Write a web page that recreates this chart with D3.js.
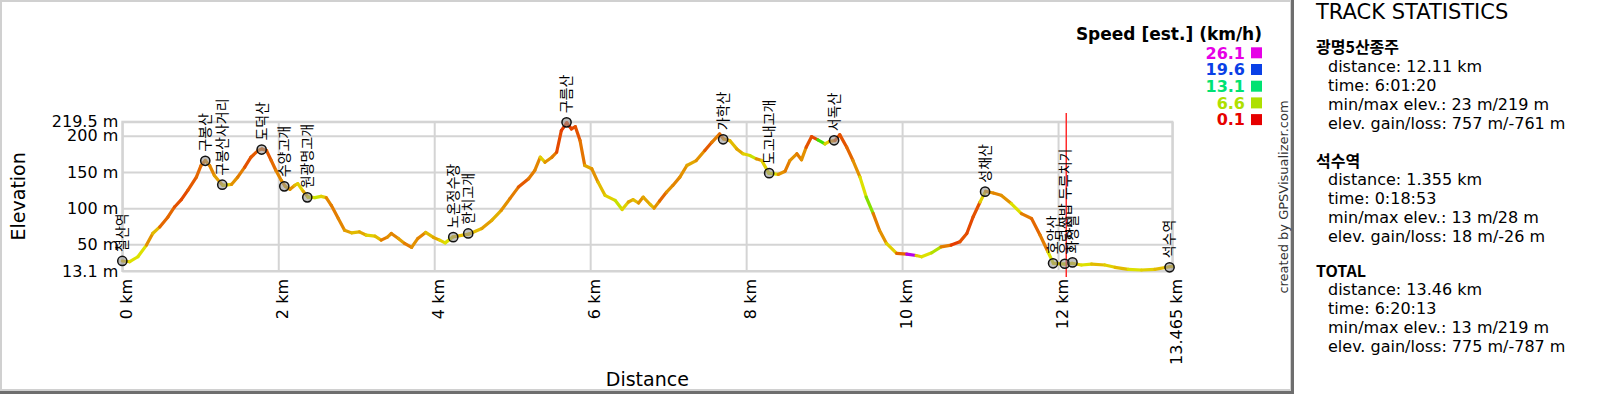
<!DOCTYPE html>
<html>
<head>
<meta charset="utf-8">
<title>광명5산종주 - elevation profile</title>
<script src="https://cdn.jsdelivr.net/npm/d3@7"></script>
<style>
  html, body { margin: 0; padding: 0; background: #fff; }
  svg { display: block; font-family: "DejaVu Sans", Verdana, sans-serif; }
</style>
</head>
<body>
<svg id="chart" width="1600" height="394"></svg>
<script>
// track profile: distance (km), elevation (m), speed (km/h)
var distKm = [
  0, 0.095, 0.2, 0.31, 0.39, 0.48, 0.586, 0.67, 0.757, 0.84,
  0.95, 1.01, 1.064, 1.12, 1.18, 1.25, 1.29, 1.40, 1.48, 1.57,
  1.65, 1.74, 1.79, 1.85, 1.91, 1.97, 2.04, 2.09, 2.15, 2.21,
  2.25, 2.32, 2.38, 2.47, 2.55, 2.615, 2.68, 2.77, 2.85, 2.94,
  3.04, 3.13, 3.24, 3.32, 3.40, 3.45, 3.54, 3.62, 3.71, 3.79,
  3.89, 3.99, 4.07, 4.14, 4.24, 4.44, 4.61, 4.74, 4.86, 4.97,
  5.08, 5.21, 5.29, 5.36, 5.42, 5.51, 5.57, 5.63, 5.70, 5.76,
  5.81, 5.87, 5.93, 6.02, 6.10, 6.19, 6.32, 6.41, 6.49, 6.55,
  6.62, 6.68, 6.77, 6.82, 6.89, 6.98, 7.06, 7.15, 7.24, 7.36,
  7.47, 7.56, 7.66, 7.71, 7.79, 7.88, 7.96, 8.05, 8.13, 8.20,
  8.29, 8.41, 8.50, 8.56, 8.65, 8.71, 8.77, 8.84, 8.92, 9.01,
  9.07, 9.14, 9.20, 9.29, 9.37, 9.46, 9.54, 9.63, 9.71, 9.80,
  9.93, 10.06, 10.18, 10.25, 10.38, 10.50, 10.63, 10.74, 10.83, 10.91,
  11.0, 11.07, 11.17, 11.27, 11.40, 11.53, 11.66, 11.77, 11.87, 11.94,
  12.09, 12.18, 12.30, 12.43, 12.60, 12.73, 12.90, 13.07, 13.24, 13.43,
  13.465
];
var elevM = [
  26.9, 25.9, 32.8, 48.9, 65, 74, 87.8, 101.6, 111.8, 124.6,
  142.9, 159, 165.8, 159, 145.2, 136, 131.4, 132.8, 142.9, 156.6,
  170.4, 179.6, 181.9, 179.6, 165.8, 152.1, 138.3, 130, 126, 131.4,
  133.8, 123.2, 115.3, 114.5, 116.3, 114.5, 103.9, 85.6, 69.5, 65.8,
  67.2, 62.6, 61.3, 55.8, 60, 65, 58.1, 51.2, 45.7, 58.1,
  66.4, 59.5, 55.8, 52, 60.3, 64, 71.8, 83.3, 97, 113.1,
  129.1, 140.7, 152.1, 170.4, 163.5, 170.4, 177.3, 207.1, 218, 209.5,
  212.6, 193.4, 159, 154.4, 136, 117.7, 110.8, 98, 108.5, 111.8,
  107.1, 115.3, 105, 100, 109.8, 122.2, 131.4, 142.9, 159, 165.8,
  179.6, 191, 202.6, 195.7, 193.4, 181.9, 175.1, 172.7, 168.2, 165.8,
  148.4, 146.6, 151.1, 165.8, 175.1, 166.8, 184.2, 198.9, 194.3, 188.8,
  192.4, 193.4, 201.6, 184.2, 165.8, 142.9, 115.3, 92.5, 69.5, 51.2,
  37.5, 36.5, 34.5, 32.8, 38.3, 46.5, 48.9, 53.4, 65, 87.8,
  108.5, 123.2, 120.9, 117.7, 106.3, 92.5, 85.6, 62.6, 39.7, 23.7,
  22.7, 23.7, 21.4, 22.7, 21.4, 18.2, 15.4, 14.5, 15.4, 19,
  19.5
];
var speedKmh = [
  4.5, 5.5, 5.5, 3.5, 4.5, 2.5, 2.5, 2, 1.8, 2.2,
  2.5, 2.8, 3.5, 3.2, 3.8, 4.2, 5, 3.5, 3, 2,
  2.2, 2.5, 2.3, 2.2, 2.6, 3.2, 3.5, 4, 3.5, 4.5,
  5, 4, 5.5, 6, 5, 3.2, 3, 3.2, 3.8, 4.5,
  4, 5, 4.5, 3, 3.5, 3.2, 3.8, 3, 3.5, 3.2,
  4.5, 4, 5, 5.5, 4.5, 4.5, 3.8, 4.2, 3.5, 3,
  2.2, 3, 3.2, 5, 3.5, 3, 1.8, 1.5, 1.5, 1.8,
  2, 2.8, 4, 3.5, 4.5, 5, 6, 5, 4, 4.5,
  3.5, 4, 4.5, 3.5, 2.5, 3.5, 3.2, 3.5, 4, 3.5,
  2.2, 3, 2.5, 3.5, 4.5, 4, 5, 6, 3.5, 5,
  5.5, 3.5, 3, 3.5, 3, 3.5, 2, 1.8, 9, 5,
  3.5, 2, 2, 2.5, 3.5, 5.5, 7.5, 3, 3.5, 5,
  2.5, 25, 5, 5.5, 6.5, 3, 1.5, 2, 1.8, 2,
  5, 3.5, 3.2, 3.5, 5.5, 3, 2.5, 3, 5.5, 5,
  5.5, 5, 5.5, 4.5, 5, 4.5, 5.5, 5, 4.5, 4.5,
  4.5
];

// waypoints
var wptNames = ["철산역", "구봉산", "구봉산사거리", "도덕산", "수양고개", "원광명고개",
  "노온정수장", "한치고개", "구름산", "가학산", "도고내고개", "서독산", "성채산",
  "호암산", "우렁쌈밥 두루치기", "화장실", "석수역"];
var wptDist = [0, 1.064, 1.282, 1.787, 2.077, 2.372, 4.244, 4.436, 5.697, 7.705,
  8.295, 9.128, 11.064, 11.936, 12.086, 12.185, 13.43];
var wptElev = [27, 165.4, 132.4, 181, 130.1, 114.9, 59.9, 65, 218.6, 195.2,
  148.4, 193.8, 122.8, 23.7, 23.1, 25, 18.2];
var markedWpt = 14;

var elevTicks = [13.1, 50, 100, 150, 200, 219.5];
var distTicks = [0, 2, 4, 6, 8, 10, 12, 13.465];

var legendSpeeds = [26.1, 19.6, 13.1, 6.6, 0.1];
var legendColors = ["#e600e6", "#0a40e6", "#00e272", "#aee000", "#e60000"];

var statTitles = ["광명5산종주", "석수역", "TOTAL"];
var statDistance = ["12.11 km", "1.355 km", "13.46 km"];
var statTime = ["6:01:20", "0:18:53", "6:20:13"];
var statMinMax = ["23 m/219 m", "13 m/28 m", "13 m/219 m"];
var statGain = ["757 m/-761 m", "18 m/-26 m", "775 m/-787 m"];

var svg = d3.select("#chart");
var plotL = 122.3, plotR = 1172.3, plotT = 121.7, plotB = 271;
var gridColor = "#d4d4d4";
var krFont = '"Noto Sans CJK KR", "DejaVu Sans", sans-serif';

var x = d3.scaleLinear().domain([0, 13.465]).range([plotL, plotR]);
var y = d3.scaleLinear().domain([13.1, 219.5]).range([plotB, plotT]);
var speedColor = d3.scaleLinear()
  .domain(legendSpeeds.slice().reverse())
  .range(legendColors.slice().reverse())
  .interpolate(d3.interpolateHsl)
  .clamp(true);

// chart frame + shadow
svg.append("rect")
  .attr("x", 1).attr("y", 1).attr("width", 1290).attr("height", 389)
  .attr("fill", "none").attr("stroke", "#d0d0d0").attr("stroke-width", 2);
svg.append("rect").attr("x", 1291).attr("y", 0).attr("width", 3).attr("height", 394).attr("fill", "#6e6e6e");
svg.append("rect").attr("x", 0).attr("y", 391).attr("width", 1294).attr("height", 3).attr("fill", "#6e6e6e");

// y grid + labels
svg.append("g")
  .attr("transform", "translate(" + plotL + ",0)")
  .call(d3.axisLeft(y).tickValues(elevTicks).tickSize(-(plotR - plotL)).tickPadding(4)
    .tickFormat(function(d){ return d + " m"; }))
  .attr("font-size", null).attr("font-family", null)
  .call(function(g){
    g.select(".domain").remove();
    g.selectAll("line").attr("stroke", gridColor).attr("stroke-width", 2);
    g.selectAll("text").attr("font-size", 16).attr("fill", "#000");
  });

// x grid + labels
svg.append("g")
  .attr("transform", "translate(0," + plotB + ")")
  .call(d3.axisBottom(x).tickValues(distTicks).tickSize(-(plotB - plotT))
    .tickFormat(function(d){ return d + " km"; }))
  .attr("font-size", null).attr("font-family", null)
  .call(function(g){
    g.select(".domain").remove();
    g.selectAll("line").attr("stroke", gridColor).attr("stroke-width", 2);
    g.selectAll("text")
      .attr("font-size", 16).attr("fill", "#000")
      .attr("transform", "rotate(-90)")
      .attr("text-anchor", "end")
      .attr("x", -8).attr("y", 4).attr("dy", "0.35em");
  });

svg.append("rect")
  .attr("x", plotL).attr("y", plotT).attr("width", plotR - plotL).attr("height", plotB - plotT)
  .attr("fill", "none").attr("stroke", gridColor).attr("stroke-width", 2);

// axis titles
svg.append("text")
  .attr("transform", "translate(25," + ((plotT + plotB) / 2) + ") rotate(-90)")
  .attr("text-anchor", "middle").attr("font-size", 19).text("Elevation");
svg.append("text")
  .attr("x", (plotL + plotR) / 2).attr("y", 386)
  .attr("text-anchor", "middle").attr("font-size", 19).text("Distance");

// profile, one segment per point, coloured by speed
svg.append("g")
  .selectAll("line")
  .data(d3.range(distKm.length - 1))
  .join("line")
  .attr("x1", function(i){ return x(distKm[i]); })
  .attr("y1", function(i){ return y(elevM[i]); })
  .attr("x2", function(i){ return x(distKm[i + 1]); })
  .attr("y2", function(i){ return y(elevM[i + 1]); })
  .attr("stroke", function(i){ return speedColor(speedKmh[i]); })
  .attr("stroke-width", 3.2)
  .attr("stroke-linecap", "round");

// marker line on one waypoint
svg.append("line")
  .attr("x1", x(wptDist[markedWpt]) + 1.5).attr("x2", x(wptDist[markedWpt]) + 1.5)
  .attr("y1", 113).attr("y2", plotB + 6)
  .attr("stroke", "#ff2a2a").attr("stroke-width", 1.5);

// waypoints
var wpts = svg.append("g").selectAll("g")
  .data(d3.range(wptNames.length))
  .join("g")
  .attr("transform", function(i){ return "translate(" + x(wptDist[i]) + "," + y(wptElev[i]) + ")"; });

wpts.append("circle")
  .attr("r", 4.6)
  .attr("fill", "rgba(150,150,150,0.6)")
  .attr("stroke", "#111").attr("stroke-width", 1.5);

wpts.append("text")
  .attr("transform", "translate(0,-9) rotate(-90)")
  .attr("dy", "0.35em")
  .attr("font-family", krFont)
  .attr("font-size", 14)
  .attr("fill", "#000")
  .text(function(i){ return wptNames[i]; });

// speed legend
svg.append("text")
  .attr("x", 1262).attr("y", 40).attr("text-anchor", "end")
  .attr("font-weight", "bold").attr("font-size", 17)
  .text("Speed [est.] (km/h)");

var leg = svg.append("g").selectAll("g")
  .data(legendSpeeds)
  .join("g")
  .attr("transform", function(d, i){ return "translate(0," + (52.8 + i * 16.7) + ")"; });
leg.append("text")
  .attr("x", 1245).attr("dy", "0.36em").attr("text-anchor", "end")
  .attr("font-weight", "bold").attr("font-size", 16)
  .attr("fill", function(d, i){ return legendColors[i]; })
  .text(function(d){ return d; });
leg.append("rect")
  .attr("x", 1251).attr("y", -5.5).attr("width", 11).attr("height", 11)
  .attr("fill", function(d, i){ return legendColors[i]; });

// credit
svg.append("text")
  .attr("transform", "translate(1288,197) rotate(-90)")
  .attr("text-anchor", "middle").attr("font-size", 13).attr("fill", "#333")
  .text("created by GPSVisualizer.com");

// statistics panel
svg.append("text")
  .attr("x", 1316).attr("y", 18.5).attr("font-size", 21)
  .text("TRACK STATISTICS");

var sectionY = [53, 166.6, 276.6];
statTitles.forEach(function(t, k){
  var g = svg.append("g").attr("transform", "translate(0," + sectionY[k] + ")");
  g.append("text")
    .attr("x", 1316).attr("font-size", 16).attr("font-weight", "bold")
    .attr("font-family", krFont)
    .text(t);
  var lines = [
    "distance: " + statDistance[k],
    "time: " + statTime[k],
    "min/max elev.: " + statMinMax[k],
    "elev. gain/loss: " + statGain[k]
  ];
  g.selectAll("text.line").data(lines).join("text")
    .attr("class", "line")
    .attr("x", 1328).attr("y", function(d, i){ return 18.8 + i * 19; })
    .attr("font-size", 16)
    .text(function(d){ return d; });
});
</script>
</body>
</html>
